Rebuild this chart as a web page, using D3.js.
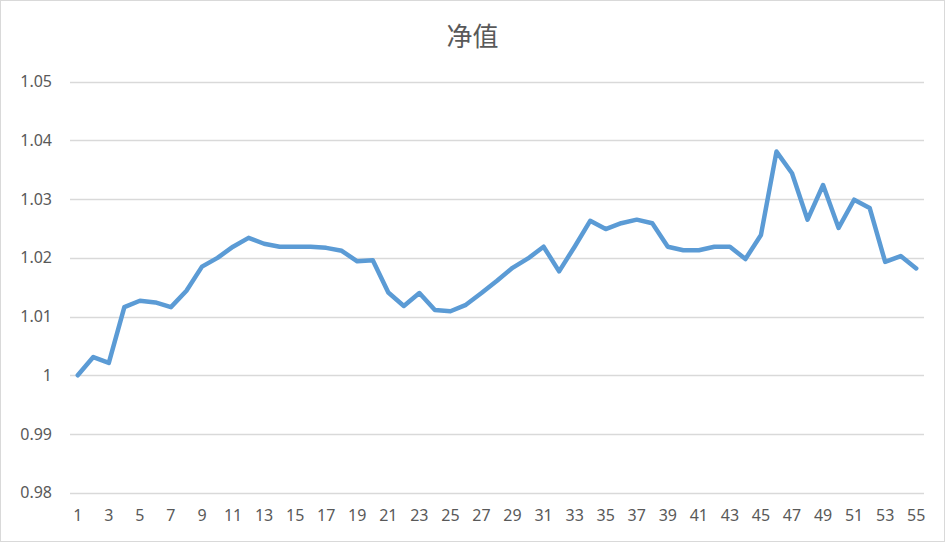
<!DOCTYPE html>
<html><head><meta charset="utf-8">
<script src="https://cdn.jsdelivr.net/npm/d3@7"></script>
<style>
html,body{margin:0;padding:0;background:#fff;}
svg{display:block;}
</style></head>
<body>
<svg id="chart" width="945" height="542"></svg>
<script>
const title = "净值";
const categories = d3.range(1, 56).map(String);
const values = [
  1.0000, 1.0031, 1.0021, 1.0116, 1.0127, 1.0124, 1.0116, 1.0144, 1.0185, 1.0200,
  1.0219, 1.0234, 1.0224, 1.0219, 1.0219, 1.0219, 1.0217, 1.0212, 1.0194, 1.0196,
  1.0141, 1.0118, 1.0140, 1.0111, 1.0109, 1.0120, 1.0140, 1.0161, 1.0183, 1.0199,
  1.0219, 1.0177, 1.0219, 1.0263, 1.0249, 1.0259, 1.0265, 1.0259, 1.0219, 1.0213,
  1.0213, 1.0219, 1.0219, 1.0198, 1.0239, 1.0381, 1.0344, 1.0265, 1.0324, 1.0251,
  1.0299, 1.0285, 1.0193, 1.0203, 1.0182
];
const yTicks = [0.98, 0.99, 1.00, 1.01, 1.02, 1.03, 1.04, 1.05];
const yTickLabels = ["0.98", "0.99", "1", "1.01", "1.02", "1.03", "1.04", "1.05"];

const W = 945, H = 542;
const m = {left: 70, right: 21, top: 81.7, bottom: 49.3};
const svg = d3.select("#chart");

svg.append("rect").attr("x", 0.5).attr("y", 0.5).attr("width", W - 1).attr("height", H - 1)
  .attr("fill", "#fff").attr("stroke", "#d9d9d9").attr("stroke-width", 1);

const x = d3.scaleBand().domain(categories).range([m.left, W - m.right]);
const y = d3.scaleLinear().domain([0.98, 1.05]).range([H - m.bottom, m.top]);

const font = "'Noto Sans', 'DejaVu Sans', sans-serif";

// gridlines
svg.append("g").selectAll("line").data(yTicks).join("line")
  .attr("x1", m.left).attr("x2", W - m.right)
  .attr("y1", d => Math.round(y(d)) + 0.5).attr("y2", d => Math.round(y(d)) + 0.5)
  .attr("stroke", "#d9d9d9").attr("stroke-width", 1.3);

// y axis labels
const yAxis = d3.axisLeft(y).tickValues(yTicks)
  .tickFormat((d, i) => yTickLabels[i]).tickSize(0).tickPadding(18);
const gy = svg.append("g").attr("transform", `translate(${m.left},0)`).call(yAxis);
gy.select(".domain").remove();
gy.selectAll("text").attr("fill", "#595959").style("font-family", font).style("font-size", "16px");

// x axis labels
const xAxis = d3.axisBottom(x).tickValues(categories.filter((d, i) => i % 2 === 0))
  .tickSize(0).tickPadding(17);
const gx = svg.append("g").attr("transform", `translate(0,${H - m.bottom})`).call(xAxis);
gx.select(".domain").remove();
gx.selectAll("text").attr("fill", "#595959").style("font-family", font).style("font-size", "16px");

// line
const line = d3.line()
  .x((d, i) => x(categories[i]) + x.bandwidth() / 2)
  .y(d => y(d));
svg.append("path").datum(values)
  .attr("d", line).attr("fill", "none")
  .attr("stroke", "#5b9bd5").attr("stroke-width", 4.5)
  .attr("stroke-linejoin", "round").attr("stroke-linecap", "round");

// title
svg.append("text").attr("x", W / 2).attr("y", 46).attr("text-anchor", "middle")
  .attr("fill", "#595959")
  .style("font-family", "'Noto Sans CJK SC', sans-serif").style("font-size", "26px")
  .text(title);
</script>
</body></html>
